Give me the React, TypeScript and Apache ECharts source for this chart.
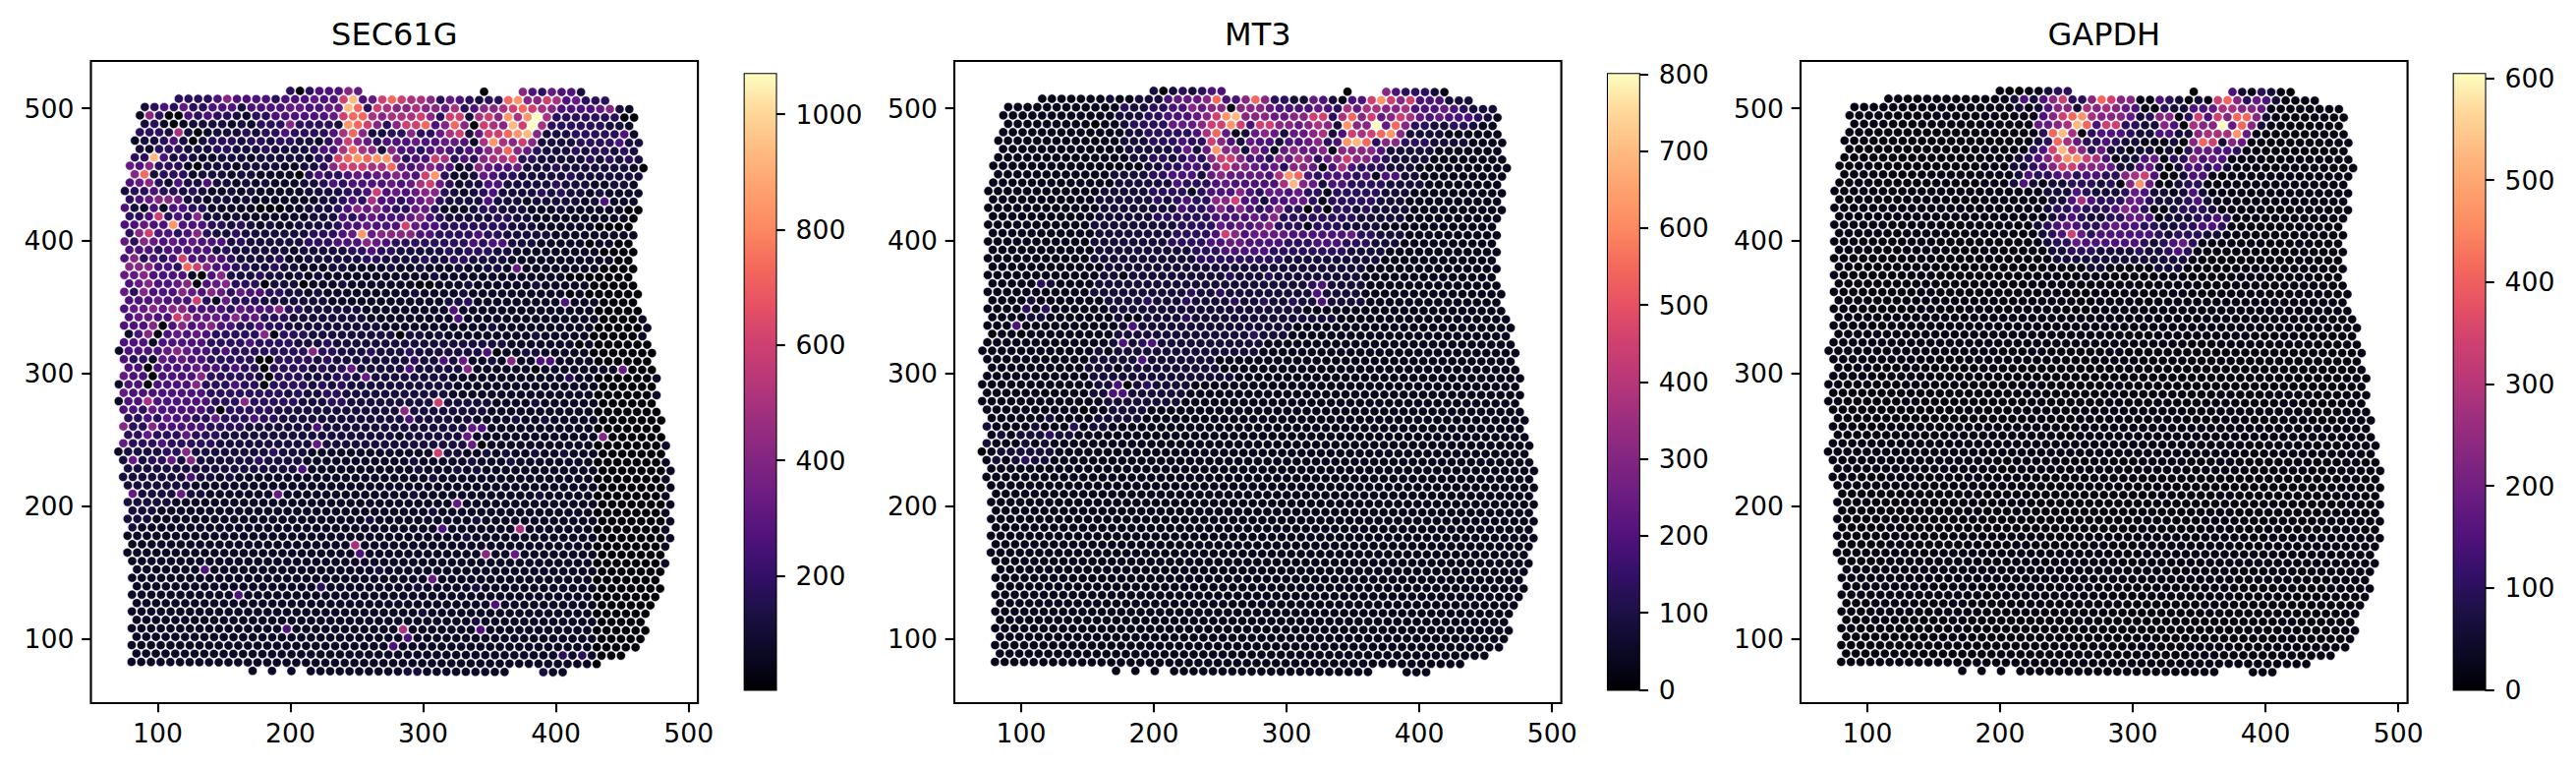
import { useEffect, useRef } from "react";
import * as echarts from "echarts";

// lattice columns present in each row of the capture area
const ROW_SPANS: number[][][] = [
  [[18, 25], [38, 38], [42, 48]], [[6, 50]], [[3, 53]], [[2, 53]], [[3, 53]], [[2, 53]], [[2, 54]], [[2, 53]], [[2, 54]], [[1, 54]],
  [[2, 54]], [[1, 53]], [[1, 54]], [[1, 53]], [[1, 54]], [[1, 53]], [[1, 53]], [[1, 53]], [[1, 53]], [[1, 53]],
  [[1, 53]], [[1, 53]], [[1, 53]], [[1, 53]], [[1, 54]], [[1, 53]], [[1, 54]], [[1, 54]], [[1, 55]], [[1, 54]],
  [[1, 55]], [[0, 55]], [[1, 55]], [[1, 55]], [[1, 56]], [[0, 55]], [[1, 56]], [[0, 55]], [[1, 56]], [[1, 56]],
  [[1, 56]], [[1, 56]], [[1, 57]], [[0, 56]], [[1, 57]], [[1, 57]], [[1, 57]], [[1, 57]], [[2, 57]], [[1, 57]],
  [[2, 57]], [[1, 57]], [[2, 57]], [[1, 57]], [[2, 57]], [[1, 56]], [[2, 57]], [[2, 56]], [[2, 56]], [[2, 56]],
  [[2, 56]], [[2, 55]], [[2, 55]], [[2, 54]], [[2, 55]], [[2, 54]], [[2, 54]], [[2, 52]], [[2, 50]],
  [[14, 14], [16, 16], [18, 18], [20, 40], [44, 46]],
];

// one character per lattice column (groups of ten), indexes the *_LEVELS arrays; missing = level 1
const SEC61G_ROWS = [
  "1111111111 1111111130 3444651111 1111111101 1164354421",
  "1111113333 4644443444 5448b45898 7763543233 9a66874533 3",
  "1112343533 4442444455 4455b93876 6766573466 7898764444 5621",
  "1116300434 3321334444 4458997677 7863882786 a7ac733333 3300",
  "1112310122 2212133363 3332a98636 8894696087 6b8c733333 3221",
  "1133327201 2223233433 3347962233 6335782588 9ab6222333 3341",
  "1112234202 3332332332 2135865344 454455417a 7686222233 33422",
  "1121333222 3322232222 3447976264 4345434467 9653222323 3232",
  "1133b42321 1222122222 13389a9aa6 3448734367 7833222223 23232",
  "1546333102 2212222112 2368887795 4565412654 4522232222 22210",
  "1169233312 2212211110 3433454556 548a311254 3322222322 22222",
  "1456314224 2212121112 2343444454 5785312244 2222232221 1221",
  "1233433232 1121211111 2222334845 4566321234 2222323221 21111",
  "1345665221 2212111111 1223437443 4563222242 2212222212 4111",
  "1421414433 1111100011 2223465643 3553111233 2221112111 11100",
  "1334834362 2121111111 2224345444 5643222223 3221111111 1110",
  "144544a444 3323212112 2223445444 8544333333 3222111111 0000",
  "1368443463 2232222222 33345a5666 6443333433 2222211111 1111",
  "1536545454 4423222222 3334446543 3333333434 4222111110 1100",
  "1444344444 2322222212 2222334332 2222323332 2111111111 0000",
  "1463434844 5432222311 2222223322 2232233222 2111111111 1100",
  "1666443986 4433223221 1122111121 1211121122 1511111111 0000",
  "1556444410 4622232212 1211111111 1112111111 1111111000 0000",
  "1456445604 5633302220 1112111111 1001112111 1112111110 0000",
  "1536444654 6535443322 1211111111 1211112111 1111111010 00000",
  "1444544483 1533322222 2211111111 1111223111 1111114111 0000",
  "1455656644 4435444633 2222221111 1111141111 1111111111 00000",
  "1455448755 5464533322 2222221111 1111141111 1111111111 0000",
  "1444604645 6443343322 2222222211 1111111112 1111111111 00000",
  "1146045454 3333360333 2222222220 2212111111 1112111110 0000",
  "1444144444 3333433332 2232222222 2222222222 2111111101 000000",
  "1444456544 3433333333 6332223222 3222222240 1122111110 000000",
  "1433154544 3333300333 3232222222 2322425112 1611441111 000000",
  "1440444454 4343303333 2323522222 4222226111 1110111111 115000",
  "1544044446 3333320333 2223325222 2222211111 1111111311 000000",
  "1440444463 3343303333 2323222222 2222211111 1111111111 000000",
  "1544444444 3333333323 2233222222 2222211111 1111111111 000000",
  "1447444444 3336333332 2233222222 2228222221 1112111111 000000",
  "1443544444 3033333222 2222222222 6222222221 1111111111 0000000",
  "1334354433 5333433222 2222222222 4222212111 1211211111 0000000",
  "1633644444 3333222222 2422222222 2222222541 1111111111 0000000",
  "1335333533 3222222222 2222222221 2222225111 1111111111 6000000",
  "1533343333 3222222222 2522222222 2222222501 1111111111 0000000",
  "1222233622 2222223222 1111111111 1118221121 2112112111 0000000",
  "1252335262 2222232222 1111111111 1211111211 1211111111 0000000",
  "1222222222 2222222224 1111111111 1211121211 1111111111 0000000",
  "1222222242 2121111111 1111111111 1112111111 1111111111 0000000",
  "1222222211 1111111111 1111111111 1111111111 1111111111 0000000",
  "1152222522 1111111511 1111111111 1211111111 1111211111 0000000",
  "1222221111 1111111111 1111111111 1111151111 1111111111 0000000",
  "1222211111 1111111111 1111111111 1112111111 1111111111 0000000",
  "1222111111 1111111111 1111112111 1111111211 1111111111 0000000",
  "1121111111 1111111111 1111111111 1111411111 1171111111 0000000",
  "1111111111 1111111111 1111111111 1111112111 1111111111 0000000",
  "1111111111 1111111111 1111171111 1111111111 1111111111 0000000",
  "1111111111 1111111111 1111141111 1111111161 1511111111 0000000",
  "1111111111 1111111111 1111111111 1111111111 1111111111 0000000",
  "1111111114 1111111111 1111111211 1111111111 1111111111 0000000",
  "1111111111 1111111111 1111111111 1115111111 1111111111 0000000",
  "1111111111 1111111111 1311111111 1211111211 1111111111 0000000",
  "1111111111 1114111111 1111111111 1111111111 1111111111 0000000",
  "1111111111 1111111111 1111111111 1111111114 1111111111 0000000",
  "1111111111 1111111111 1111111111 1121111111 1111111111 0000000",
  "1111111111 1111111111 1111111111 1111111211 1111111111 0000000",
  "1111111111 1111111141 1111111111 7111111141 1111111111 0000000",
  "1111111111 1111111111 1111111111 4111111111 1111111111 0000000",
  "1111111111 1111111111 1111111114 1111111111 1111111111 0000000",
  "1111111111 1111111111 1111111111 1111111111 1111113131 0000000",
  "1111111111 1111111111 1111111111 1111111111 1111111111 0000000",
  "1111111111 1111111111 1111111111 2211111111 1111211111 1111111",
];

const MT3_ROWS = [
  "1111111111 1111111120 2323441111 1111111101 1164333211",
  "1111111111 1112112224 5556944696 3322542144 8a86844422 2",
  "1111111111 1111132233 4465661666 5444454375 7766744454 3222",
  "1111111111 1111222334 44568ab666 5566883796 8568754544 4321",
  "1111111111 1101123333 555688a848 86656762a6 6c59633223 3211",
  "1111111111 1111122333 3347951256 5255672487 89a6222211 1111",
  "1111111111 1111122233 3433864254 42445634ab 9366333222 21111",
  "1111111111 1111122222 3525a66264 1565561666 6422222111 1111",
  "1111111111 1111112233 2343688644 3657635686 6432222111 11111",
  "1111111111 1111111223 3443686654 5366514743 3322211111",
  "1111111111 1111222233 4442565555 47a9434443 4144221111",
  "1111111111 1111222222 4333454444 47b6524433 3322221111",
  "1111111111 1112222233 3313444643 5545331333 3322211111",
  "1111111111 1122222232 3433668442 4455313333 3222111111",
  "1111111111 1112222222 2433464643 4633030332 3222211111",
  "1111111111 1122222233 3333444454 6333333332 2222111111",
  "1111111111 1122222222 2333354545 6333133322 2211111111",
  "1111111111 1122222222 3333486455 5544444453 3222111111",
  "1111111111 1122222222 3333445544 4433344433 3222111111",
  "1111111111 1122222222 2233344444 3333333322 2211111111",
  "1111111111 1122222222 2223333333 3322222222 2211111111",
  "1111111111 1112222222 2222222222 2222222222 1111111111",
  "1111111111 1112212222 2222223222 3222222222 1111111111",
  "1111113211 1122222222 2222222222 2222342222 1111111111",
  "1111111111 1122222222 2232232222 2222242222 1111111111",
  "1111121111 1112222322 2322223223 2232242222 1111111111",
  "1111131311 1111222222 2222222222 2222111111",
  "1111122111 1111211222 2322222222 2222222111",
  "1111411111 1111124222 2222222222 2221111111",
  "1011011111 1111222222 2222222232 2211111111",
  "1111111111 1111242342 2222222222",
  "1111111111 1121222222 2222222221",
  "1111111111 1122222422 2222211111",
  "1111111111 1222122222 2222211111",
  "1111111111 1122222222 2222222111",
  "1111111111 1122402322 2211111111",
  "1111111111 1122442222 2211111111",
  "1111111111 1112222222 2111111111",
  "1111111111 1011222211",
  "1111111211 1122222111",
  "1211112111 3122111111",
  "1121222322",
  "1211121211",
  "0122222211",
  "1121232211",
];

const GAPDH_ROWS = [
  "1111111111 1111111110 0112331111 1111111101 1142132101",
  "1111111111 1111111112 4246833698 6611432021 8963542111 1",
  "1111111111 1111111111 2124662767 6541132244 5776651111",
  "1111111111 1111111111 114689a766 6523661384 8699621111",
  "1111111111 1111111111 115567b948 8332264076 6c59621111",
  "1111111111 1111111111 1139b71344 4322442267 77a5111111",
  "1111111111 1111111111 1123975334 3221112069 8265111111",
  "1111111111 1111111111 1348b86352 2122120355 4431111111",
  "1111111111 1111111111 23468aa874 1224513364 5411111111",
  "1111111111 1111111112 2346886665 2245202443 4211111111",
  "1111111111 1111111111 2433453443 3678401244 1011111111",
  "1111111111 1111111112 4212233323 16a5112331 1111111111",
  "1111111111 1111111111 1112224322 2354221242 1111111111",
  "1111111111 1111111111 1112247433 3553222342 1111111111",
  "1111111111 1111111111 1112334333 4653112333 2111111111",
  "1111111111 1111111111 1112343223 3554122233 4311111111",
  "1111111111 1111111111 1123454334 5443322334 4311111111",
  "1111111111 1111111111 1123485344 4444323332 2111111111",
  "1111111111 1111111111 1112335444 4443234531 1111111111",
  "1111111111 1111111111 1112233322 2232234311 1111111111",
  "1111111111 1111111111 1111222222 2222222211 1111111111",
  "1111111111 1111111111 1111111221 1111222111 1111111111",
];

const SEC61G_LEVELS = [5, 68, 120, 175, 260, 320, 410, 495, 600, 730, 835, 930, 1069];
const MT3_LEVELS = [0, 32, 80, 130, 190, 240, 305, 370, 450, 545, 625, 695, 800];
const GAPDH_LEVELS = [0, 18, 60, 97, 145, 180, 230, 278, 338, 410, 470, 525, 604];

const MAGMA = [
  "#000004", "#0c0926", "#1c1044", "#341069", "#51127c", "#6a1c81", "#832681", "#9c2e7f", "#b73779",
  "#cf4070", "#e65164", "#f4695c", "#fc8961", "#fea16e", "#febb81", "#fed799", "#fcfdbf",
];

// spot lattice in data units
const X0_EVEN = 68.5;
const X0_ODD = 72.15;
const X_STEP = 7.3;
const X_DRIFT = -0.0408;
const Y0 = 513.67;
const Y_STEP = 6.34;
const Y_DRIFT = -0.0328;

const XLIM: [number, number] = [49.7, 507];
const YLIM: [number, number] = [51.4, 535.6];
const AXIS_TICKS = [100, 200, 300, 400, 500];

const FONT = "DejaVu Sans";
const FONT_SIZE = 26.67;
const LINE = 2.13;
const TICK = 9.3;

const PANELS = [
  { title: "SEC61G", rows: SEC61G_ROWS, levels: SEC61G_LEVELS, min: 2, max: 1069.5, ticks: [200, 400, 600, 800, 1000], left: 92.5, cbLeft: 757.7 },
  { title: "MT3", rows: MT3_ROWS, levels: MT3_LEVELS, min: 0, max: 800, ticks: [0, 100, 200, 300, 400, 500, 600, 700, 800], left: 971, cbLeft: 1636 },
  { title: "GAPDH", rows: GAPDH_ROWS, levels: GAPDH_LEVELS, min: 0, max: 604, ticks: [0, 100, 200, 300, 400, 500, 600], left: 1832, cbLeft: 2496.7 },
];
const PANEL_TOP = 62;
const PANEL_W = 617.6;
const PANEL_H = 653;
const CB_TOP = 75.3;
const CB_W = 31.8;
const CB_H = 626.2;

function buildSpots(rows: string[], levels: number[]) {
  const spots: number[][] = [];
  ROW_SPANS.forEach((spans, r) => {
    const chars = (rows[r] ?? "").replace(/ /g, "");
    const x0 = (r % 2 === 0 ? X0_EVEN : X0_ODD) + X_DRIFT * r;
    spans.forEach(([from, to]) => {
      for (let c = from; c <= to; c++) {
        const lvl = c < chars.length ? parseInt(chars[c], 13) : 1;
        spots.push([x0 + c * X_STEP, Y0 - r * Y_STEP + Y_DRIFT * c, levels[lvl]]);
      }
    });
  });
  return spots;
}

function buildOption() {
  const grid: any[] = [];
  const xAxis: any[] = [];
  const yAxis: any[] = [];
  const series: any[] = [];
  const visualMap: any[] = [];
  const title: any[] = [];
  const graphic: any[] = [];

  const label = { color: "#000", fontFamily: FONT, fontSize: FONT_SIZE, formatter: (v: number) => String(v) };
  const tickStyle = { color: "#000", width: LINE };

  PANELS.forEach((p, i) => {
    const a = i * 2;
    const b = a + 1;
    grid.push({ left: p.left, top: PANEL_TOP, width: PANEL_W, height: PANEL_H, show: true, borderColor: "#000", borderWidth: LINE, backgroundColor: "#fff" });
    grid.push({ left: p.cbLeft, top: CB_TOP, width: CB_W, height: CB_H });

    xAxis.push({
      gridIndex: a, type: "value", min: XLIM[0], max: XLIM[1], splitLine: { show: false }, axisLine: { show: false },
      axisTick: { show: true, length: TICK, lineStyle: tickStyle, customValues: AXIS_TICKS },
      axisLabel: { ...label, margin: 17, customValues: AXIS_TICKS },
    });
    yAxis.push({
      gridIndex: a, type: "value", min: YLIM[0], max: YLIM[1], splitLine: { show: false }, axisLine: { show: false },
      axisTick: { show: true, length: TICK, lineStyle: tickStyle, customValues: AXIS_TICKS },
      axisLabel: { ...label, margin: 17, customValues: AXIS_TICKS },
    });
    xAxis.push({ gridIndex: b, type: "category", data: [p.title], show: false });
    yAxis.push({
      gridIndex: b, type: "value", position: "right", min: p.min, max: p.max, splitLine: { show: false }, axisLine: { show: false },
      axisTick: { show: true, length: TICK, lineStyle: tickStyle, customValues: p.ticks },
      axisLabel: { ...label, margin: 20, customValues: p.ticks },
    });

    series.push({
      type: "scatter", xAxisIndex: a, yAxisIndex: a, data: buildSpots(p.rows, p.levels), symbol: "circle", symbolSize: 9.2,
      itemStyle: { borderColor: "#fff", borderWidth: 0.6, opacity: 1 }, silent: true, progressive: 0, animation: false,
    });
    visualMap.push({ show: false, type: "continuous", min: p.min, max: p.max, dimension: 2, seriesIndex: series.length - 1, inRange: { color: MAGMA } });

    series.push({
      type: "bar", xAxisIndex: b, yAxisIndex: b, data: [p.max], barWidth: "100%", silent: true,
      itemStyle: {
        color: new echarts.graphic.LinearGradient(0, 1, 0, 0, MAGMA.map((color, k) => ({ offset: k / (MAGMA.length - 1), color }))),
      },
    });

    title.push({
      text: p.title, left: p.left + PANEL_W / 2, top: 19, padding: 0, textAlign: "center",
      textStyle: { color: "#000", fontFamily: FONT, fontSize: 32, fontWeight: "normal" },
    });
    graphic.push({
      type: "rect", z: 100, silent: true,
      shape: { x: p.cbLeft, y: CB_TOP, width: CB_W, height: CB_H },
      style: { fill: "none", stroke: "#000", lineWidth: LINE },
    });
  });

  return { animation: false, backgroundColor: "#fff", grid, xAxis, yAxis, series, visualMap, title, graphic };
}

export default function App() {
  const chartRef = useRef<HTMLDivElement>(null);

  useEffect(() => {
    if (!chartRef.current) return;
    const chart = echarts.init(chartRef.current, undefined, { renderer: "svg" });
    chart.setOption(buildOption());
    return () => chart.dispose();
  }, []);

  return <div ref={chartRef} style={{ position: "absolute", left: 0, top: 0, width: 2621, height: 782 }} />;
}
